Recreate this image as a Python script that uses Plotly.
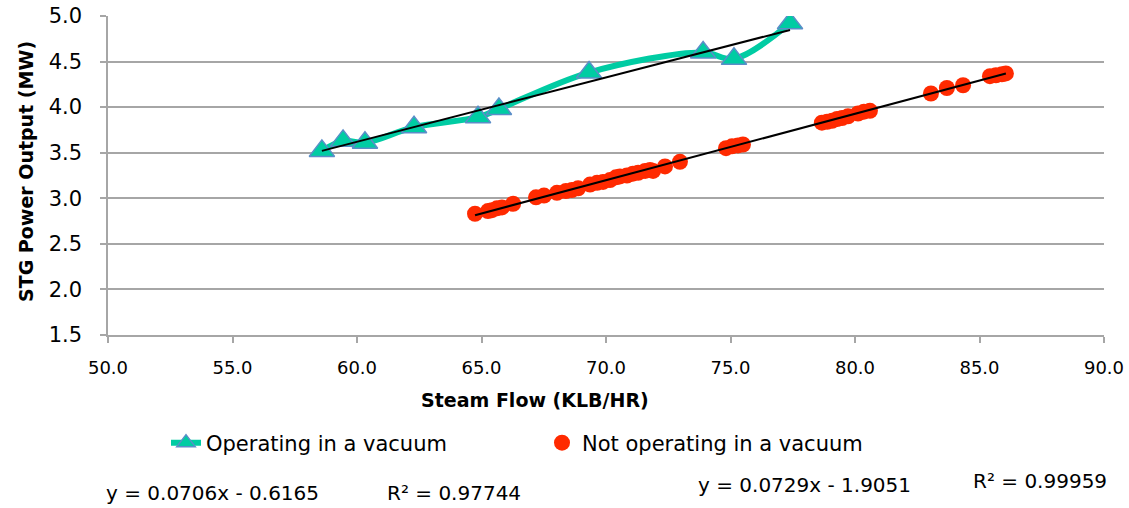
import plotly.graph_objects as go
import numpy as np

# Operating in a vacuum
vac_x = [58.59, 59.44, 60.32, 62.29, 64.86, 65.70, 69.32, 73.90, 75.14, 77.39]
vac_y = [3.52, 3.63, 3.61, 3.78, 3.89, 3.98, 4.38, 4.60, 4.53, 4.92]

# Not operating in a vacuum
nov_x = [64.74, 65.26, 65.42, 65.62, 65.82, 66.27, 67.19, 67.51, 68.03, 68.39,
         68.63, 68.88, 69.36, 69.64, 69.88, 70.16, 70.40, 70.56, 70.84, 71.08,
         71.29, 71.57, 71.77, 71.89, 72.37, 72.97, 74.82, 75.06, 75.30, 75.50,
         78.67, 78.88, 79.08, 79.28, 79.48, 79.72, 80.12, 80.36, 80.60, 83.05,
         83.69, 84.34, 85.42, 85.66, 85.90, 86.06]
nov_y = [2.83, 2.86, 2.87, 2.89, 2.90, 2.94, 3.01, 3.03, 3.06, 3.08,
         3.09, 3.11, 3.15, 3.17, 3.18, 3.20, 3.23, 3.24, 3.25, 3.27,
         3.28, 3.30, 3.31, 3.30, 3.35, 3.40, 3.55, 3.57, 3.58, 3.59,
         3.83, 3.84, 3.85, 3.87, 3.88, 3.90, 3.93, 3.95, 3.96, 4.15,
         4.21, 4.24, 4.34, 4.35, 4.36, 4.37]

# Trendline coefficients (slope, intercept, R²)
vac_fit = (0.0706, -0.6165, 0.97744)
nov_fit = (0.0729, -1.9051, 0.99959)

x_ticks = [50, 55, 60, 65, 70, 75, 80, 85, 90]
y_ticks = [1.5, 2.0, 2.5, 3.0, 3.5, 4.0, 4.5, 5.0]

FONT = "DejaVu Sans"
TEAL = "#00CCA3"
RED = "#FF2A00"
GRID = "#A6A6A6"

W, H = 1129, 508
ML, MR, MT, MB = 108, 25, 16, 0
PW, PH = W - ML - MR, H - MT - MB
PLOT_BOTTOM = 335


def px(xp):
    return (xp - ML) / PW


def py(yp):
    return (H - MB - yp) / PH


fig = go.Figure()

fig.add_trace(go.Scatter(
    x=vac_x, y=vac_y, mode="lines+markers", name="Operating in a vacuum",
    line=dict(color=TEAL, width=6, shape="spline", smoothing=1.0),
    marker=dict(symbol="triangle-up", size=22, color=TEAL,
                line=dict(color="#5B8DC8", width=1.5)),
))
fig.add_trace(go.Scatter(
    x=nov_x, y=nov_y, mode="markers", name="Not operating in a vacuum",
    marker=dict(symbol="circle", size=16, color=RED),
))

for xs, (m, b, r2) in [(vac_x, vac_fit), (nov_x, nov_fit)]:
    tx = np.array([min(xs), max(xs)])
    fig.add_trace(go.Scatter(
        x=tx, y=m * tx + b, mode="lines", showlegend=False,
        line=dict(color="black", width=2), hoverinfo="skip",
    ))


def eq(m, b):
    sign = "-" if b < 0 else "+"
    return f"y = {m:.4f}x {sign} {abs(b):.4f}"


ann = [
    dict(text=eq(*vac_fit[:2]), x=px(104), y=py(493)),
    dict(text=f"R² = {vac_fit[2]:.5f}", x=px(385), y=py(493)),
    dict(text=eq(*nov_fit[:2]), x=px(696), y=py(485)),
    dict(text=f"R² = {nov_fit[2]:.5f}", x=px(971), y=py(481)),
]
for a in ann:
    fig.add_annotation(xref="paper", yref="paper", xanchor="left", yanchor="middle",
                       showarrow=False, font=dict(family=FONT, size=20, color="black"), **a)

fig.add_annotation(text="<b>Steam Flow (KLB/HR)</b>", xref="paper", yref="paper",
                   x=px(535), y=py(400), xanchor="center", yanchor="middle",
                   showarrow=False, font=dict(family=FONT, size=19, color="black"))
fig.add_annotation(text="<b>STG Power Output (MW)</b>", xref="paper", yref="paper",
                   x=px(26), y=py(172), xanchor="center", yanchor="middle",
                   textangle=-90, showarrow=False, font=dict(family=FONT, size=19, color="black"))

fig.update_xaxes(range=[50, 90], tickvals=x_ticks, ticktext=[f"{v:.1f}" for v in x_ticks],
                 automargin=False, ticklabelstandoff=10,
                 showgrid=False, zeroline=False, showline=True, linecolor=GRID, linewidth=1.5,
                 ticks="outside", ticklen=6, tickcolor=GRID, tickwidth=1.5,
                 tickfont=dict(family=FONT, size=18, color="black"))
fig.update_yaxes(range=[1.5, 5.0], tickvals=y_ticks, ticktext=[f"{v:.1f}" for v in y_ticks],
                 domain=[py(PLOT_BOTTOM), 1.0], automargin=False, ticklabelstandoff=14,
                 showgrid=True, gridcolor=GRID, gridwidth=1.5, zeroline=False,
                 showline=True, linecolor=GRID, linewidth=1.5,
                 ticks="outside", ticklen=6, tickcolor=GRID, tickwidth=1.5,
                 tickfont=dict(family=FONT, size=21, color="black"))

fig.update_layout(
    width=W, height=H,
    margin=dict(l=ML, r=MR, t=MT, b=MB),
    plot_bgcolor="white", paper_bgcolor="white",
    font=dict(family=FONT, color="black"),
    legend=dict(orientation="h", x=px(166), y=py(443),
                xanchor="left", yanchor="middle", entrywidth=331, entrywidthmode="pixels",
                font=dict(family=FONT, size=21, color="black"), bgcolor="rgba(0,0,0,0)"),
)

fig.write_html("out.html")
